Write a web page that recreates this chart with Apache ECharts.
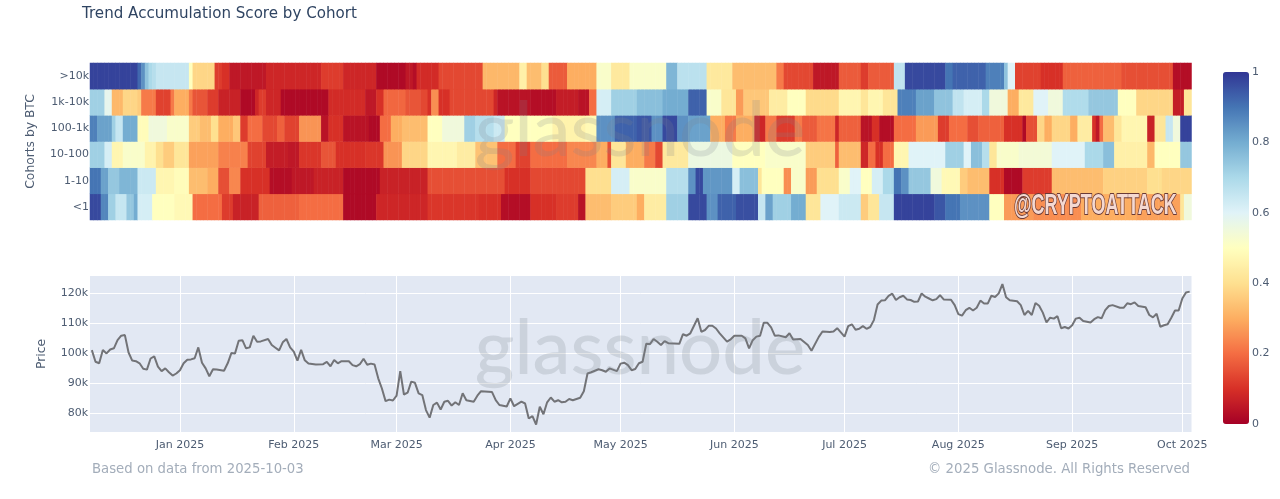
<!DOCTYPE html>
<html><head><meta charset="utf-8">
<style>html,body{margin:0;padding:0;background:#fff}#c{width:1280px;height:499px}</style>
<script src="https://cdn.jsdelivr.net/npm/echarts@6/dist/echarts.min.js"></script>
</head><body><div id="c"></div>
<script>
const cohorts = ['<1','1-10','10-100','100-1k','1k-10k','>10k'];
const priceTicks = [80000,90000,100000,110000,120000];
const scaleTicks = [0,0.2,0.4,0.6,0.8,1];
const palette = ['#a50026','#d73027','#f46d43','#fdae61','#fee090','#ffffbf','#e0f3f8','#abd9e9','#74add1','#4575b4','#313695'];
const dayCount = 300;
const firstDay = Date.UTC(2024,11,8);

// each pair: [day index where the band ends, score]
const bandsOver10k = [[13,.98],[14,.92],[15,.85],[16,.75],[17,.7],[18,.68],[27,.65],[28,.5],[34,.38],[36,.12],[38,.1],[48,.05],[63,.08],[69,.12],[78,.08],[86,.02],[88,.05],[89,.03],[95,.09],[107,.14],[117,.32],[119,.45],[123,.33],[125,.4],[130,.17],[138,.3],[142,.52],[147,.43],[157,.52],[160,.78],[168,.67],[175,.43],[187,.33],[189,.22],[197,.14],[204,.05],[210,.17],[212,.12],[219,.17],[222,.66],[233,.97],[235,.9],[244,.93],[249,.88],[250,.75],[252,.6],[259,.13],[265,.1],[281,.18],[295,.15],[300,.03]];
const bands1kTo10k = [[4,.72],[6,.58],[9,.32],[13,.38],[14,.36],[18,.22],[22,.13],[23,.22],[27,.3],[28,.22],[32,.16],[35,.12],[41,.07],[45,.02],[46,.08],[48,.12],[52,.08],[65,.02],[75,.09],[78,.05],[80,.1],[86,.19],[90,.16],[92,.14],[93,.1],[95,.25],[98,.1],[110,.14],[111,.08],[120,.04],[127,.03],[133,.06],[136,.04],[138,.2],[142,.62],[149,.72],[156,.76],[163,.8],[168,.93],[172,.52],[176,.42],[178,.27],[185,.35],[190,.44],[195,.5],[204,.39],[210,.47],[212,.42],[216,.47],[220,.42],[225,.88],[230,.82],[235,.75],[238,.66],[243,.62],[245,.7],[250,.55],[253,.3],[257,.43],[261,.6],[265,.55],[272,.69],[280,.74],[285,.5],[295,.38],[298,.06],[300,.42]];
const bands100To1k = [[2,.88],[6,.82],[7,.72],[9,.65],[13,.8],[16,.49],[21,.55],[27,.52],[30,.36],[33,.33],[35,.4],[39,.3],[41,.35],[43,.12],[47,.2],[51,.14],[53,.18],[57,.13],[63,.26],[65,.04],[69,.1],[76,.04],[79,.02],[82,.2],[85,.3],[92,.33],[96,.5],[102,.55],[105,.72],[110,.68],[113,.64],[126,.5],[135,.46],[138,.48],[143,.85],[149,.93],[153,.95],[156,.85],[160,.97],[163,.85],[169,.82],[173,.3],[176,.22],[181,.3],[184,.08],[187,.22],[192,.12],[194,.22],[198,.17],[203,.21],[204,.08],[210,.18],[213,.04],[215,.1],[219,.03],[225,.2],[231,.27],[234,.12],[239,.2],[242,.15],[249,.18],[254,.1],[255,.02],[258,.15],[260,.38],[262,.3],[267,.38],[269,.3],[273,.44],[274,.1],[275,.05],[276,.2],[279,.33],[281,.42],[288,.47],[290,.07],[293,.42],[295,.65],[297,.55],[300,.98]];
const bands10To100 = [[4,.72],[6,.62],[9,.47],[15,.52],[18,.46],[20,.4],[23,.36],[27,.42],[35,.28],[43,.23],[48,.13],[54,.06],[57,.05],[63,.11],[67,.16],[75,.1],[80,.11],[85,.26],[92,.38],[100,.47],[105,.44],[111,.34],[116,.2],[120,.13],[130,.2],[138,.24],[141,.3],[142,.15],[146,.42],[151,.3],[154,.22],[156,.14],[163,.43],[175,.56],[184,.5],[195,.52],[203,.36],[204,.18],[210,.33],[212,.08],[214,.2],[216,.1],[219,.2],[223,.47],[233,.6],[238,.72],[240,.6],[243,.76],[245,.68],[247,.42],[253,.52],[262,.54],[271,.6],[276,.7],[279,.76],[288,.45],[290,.32],[297,.5],[300,.74]];
const bands1To10 = [[3,.9],[5,.82],[8,.74],[13,.78],[18,.64],[23,.47],[27,.49],[32,.33],[35,.3],[38,.15],[41,.24],[49,.1],[55,.03],[61,.05],[69,.07],[79,.02],[92,.07],[113,.15],[120,.1],[135,.14],[142,.4],[147,.62],[157,.52],[163,.68],[165,.85],[167,.97],[175,.84],[177,.62],[182,.76],[183,.42],[189,.5],[191,.25],[195,.52],[198,.27],[204,.4],[207,.52],[210,.6],[213,.5],[216,.62],[219,.7],[221,.9],[223,.85],[229,.74],[232,.55],[237,.48],[239,.36],[245,.33],[249,.1],[254,.02],[262,.12],[276,.33],[288,.37],[292,.4],[300,.38]];
const bandsUnder1 = [[3,.97],[5,.87],[7,.72],[10,.65],[12,.74],[13,.8],[17,.62],[23,.5],[28,.48],[36,.2],[39,.12],[46,.07],[57,.18],[69,.2],[78,.02],[92,.08],[106,.11],[112,.1],[120,.03],[127,.1],[133,.12],[135,.04],[142,.33],[149,.36],[151,.3],[157,.44],[163,.72],[168,.97],[171,.85],[176,.93],[182,.96],[184,.65],[186,.82],[191,.72],[195,.8],[199,.42],[204,.6],[210,.64],[212,.36],[215,.42],[219,.65],[230,.98],[233,.95],[237,.9],[245,.85],[249,.5],[257,.27],[270,.25],[285,.3],[297,.28],[298,.42],[300,.55]];

// each pair: [day index, BTC price]
const pricesA = [[0,101100],[1,97200],[2,96700],[3,101100],[4,100000],[5,101300],[6,101700],[7,104400],[8,105900],[9,106100],[10,100300],[11,97600],[12,97400],[13,96700],[14,94900],[15,94600],[16,98300],[17,99000],[18,95600],[19,94100],[20,95000],[21,93700],[22,92600],[23,93300],[24,94400],[25,96700],[26,97900],[27,98000],[28,98400],[29,102000],[30,96900],[31,95000],[32,92400],[33,94700],[34,94600],[36,94200],[37,96700],[38,100100],[39,100000],[40,104200],[41,104400],[42,101700],[43,102000],[44,105900],[45,103900],[46,104000],[48,104800],[49,102800],[50,101900],[51,101000],[52,103700],[53,104800],[54,102000],[55,100600],[56,97600],[57,101200],[58,97700],[59,96600],[61,96300],[63,96400],[64,97200],[65,95700],[66,97800],[67,96700],[68,97400],[70,97400],[71,96100],[72,95700],[73,96400],[74,98200],[75,96200],[76,96600],[77,96300],[78,91700],[79,88300],[80,84100],[81,84600],[82,84300],[83,85900],[84,94100],[85,86300],[86,86900]];
const pricesB = [[87,90600],[88,90200],[89,86700],[90,86100],[91,81100],[92,78600],[93,82800],[94,83600],[95,81300],[96,83900],[97,84200],[98,82600],[99,83700],[100,82800],[101,86700],[102,84400],[104,83900],[105,85900],[106,87400],[109,87100],[110,84400],[111,82800],[113,82300],[114,85000],[115,82400],[117,83900],[118,83300],[119,78300],[120,79100],[121,76300],[122,82200],[123,79700],[124,83700],[125,85300],[126,83900],[127,84400],[128,83700],[129,83900],[130,84800],[131,84400],[133,85200],[134,87400],[135,93300],[136,93700],[138,94700],[139,94400],[140,93900],[141,95000],[143,94100],[144,96600],[145,96900],[146,96100],[147,94400],[148,94800],[149,96700],[150,97200],[151,103200],[152,103100],[153,104800],[154,103900],[155,102800],[156,104100],[157,103400],[160,103200],[161,106400],[162,105900],[163,106700],[164,109200],[165,111700],[166,107200],[167,107800],[168,109200],[169,109200],[170,108300],[171,106700],[173,103900],[174,104700],[175,105900],[177,105900],[178,105000],[179,101700],[180,104400],[181,105600],[182,105900],[183,110200],[184,110200],[185,108700],[186,105900],[187,106000],[189,105400],[190,106700],[191,104600],[193,104800],[195,102800],[196,100900]];
const pricesC = [[198,105500],[199,107300],[201,107100],[202,107300],[203,108400],[204,107000],[205,105600],[206,109100],[207,109700],[208,107900],[209,108200],[210,109100],[211,108200],[212,108800],[213,111100],[214,116300],[215,117600],[216,117700],[217,119200],[218,119900],[219,117800],[220,118700],[221,119200],[222,118000],[223,117800],[224,117200],[225,117300],[226,120000],[227,118900],[228,118300],[229,117700],[230,118100],[231,119400],[232,118000],[234,117900],[235,116100],[236,113100],[237,112600],[238,114400],[239,115200],[240,114300],[241,115200],[242,117600],[243,116600],[244,116600],[245,119200],[246,118800],[247,120000],[248,123100],[249,118700],[250,117700],[252,117400],[253,116100],[254,112800],[255,114200],[256,112800],[257,116800],[258,115900],[259,113600],[260,110300],[261,111900],[262,111600],[263,112400],[264,108400],[265,108800],[266,108300],[267,109400],[268,111600],[269,111900],[270,110800],[272,110300],[273,111400],[274,112100],[275,111700],[276,114400],[277,115800],[278,116100],[280,115200],[281,115200],[282,116700],[283,116400],[284,117000],[285,115800],[287,115400],[288,112800],[289,112000],[290,113200],[291,108900],[292,109400],[293,109700],[294,111900],[295,114300],[296,114300],[297,118300],[298,120300],[299,120600]];

const days = Array.from({length:dayCount},(_,i)=>new Date(firstDay+i*864e5));
const MONTHS=['Jan','Feb','Mar','Apr','May','Jun','Jul','Aug','Sep','Oct','Nov','Dec'];
const dayLabels = days.map(d=>MONTHS[d.getUTCMonth()]+' '+d.getUTCFullYear());
const isMonthStart = i => days[i].getUTCDate()===1;

const rows = [bandsUnder1,bands1To10,bands10To100,bands100To1k,bands1kTo10k,bandsOver10k];
const cells = [];
rows.forEach((bands,r)=>{let from=0;bands.forEach(([end,v])=>{for(let i=from;i<end;i++)cells.push([i,r,v]);from=end;});});
const prices = pricesA.concat(pricesB,pricesC);

const ink='#4d5c72', navy='#2f4462', faint='#a3adba';
const L=90, W=1101.5;
const chart = echarts.init(document.getElementById('c'),null,{renderer:'canvas'});
chart.setOption({
  animation:false,
  textStyle:{fontFamily:'DejaVu Sans'},
  title:[
    {text:'Trend Accumulation Score by Cohort',left:77,top:2,textStyle:{fontSize:15.1,fontWeight:'normal',color:navy,fontFamily:'DejaVu Sans'}},
    {text:'Based on data from 2025-10-03',left:87,top:458,textStyle:{fontSize:13.25,fontWeight:'normal',color:faint,fontFamily:'DejaVu Sans'}},
    {text:'© 2025 Glassnode. All Rights Reserved',right:85,top:458,textStyle:{fontSize:13.3,fontWeight:'normal',color:faint,fontFamily:'DejaVu Sans'}}
  ],
  grid:[
    {left:L,top:63,width:W,height:157},
    {left:L,top:276,width:W,height:156,backgroundColor:'#e2e8f3',show:true,borderWidth:0},
    {left:1223,top:72,width:26,height:352,show:false}
  ],
  xAxis:[
    {type:'category',gridIndex:0,data:dayLabels,show:false},
    {type:'category',gridIndex:1,data:dayLabels,boundaryGap:true,
      axisLine:{show:false},
      axisTick:{show:false},
      axisLabel:{interval:i=>isMonthStart(i),color:ink,fontSize:11,margin:8,hideOverlap:false},
      splitLine:{show:true,interval:i=>isMonthStart(i),alignWithLabel:true,lineStyle:{color:'#ffffff',width:1}}},
    {type:'value',gridIndex:2,show:false,min:0,max:1}
  ],
  yAxis:[
    {type:'category',gridIndex:0,data:cohorts,name:'Cohorts by BTC',nameLocation:'middle',nameGap:53,
      nameTextStyle:{color:ink,fontSize:12.3},
      axisLine:{show:false},axisTick:{show:false},axisLabel:{color:ink,fontSize:11,margin:0,padding:[0,1,0,0]},splitLine:{show:false}},
    {type:'value',gridIndex:1,min:73800,max:125800,name:'Price',nameLocation:'middle',nameGap:42,
      nameTextStyle:{color:ink,fontSize:12.3},
      axisLine:{show:false},
      axisTick:{show:false,customValues:priceTicks},
      axisLabel:{color:ink,fontSize:11,margin:2,customValues:priceTicks,formatter:v=>(v/1000)+'k'},
      splitLine:{show:true,lineStyle:{color:'#ffffff',width:1}}},
    {type:'value',gridIndex:2,position:'right',min:0,max:1,
      axisLine:{show:false},
      axisTick:{show:false,customValues:scaleTicks},
      axisLabel:{color:ink,fontSize:11,margin:3,customValues:scaleTicks,formatter:v=>String(v)},
      splitLine:{show:false}}
  ],
  visualMap:{type:'continuous',seriesIndex:0,min:0,max:1,calculable:false,hoverLink:false,
    left:1208,top:57,itemWidth:26,itemHeight:352,borderRadius:0,text:null,showLabel:false,
    textStyle:{color:'transparent',fontSize:1},
    inRange:{color:palette},formatter:()=>''},
  series:[
    {type:'heatmap',xAxisIndex:0,yAxisIndex:0,data:cells,progressive:0,animation:false,
      itemStyle:{borderWidth:0},emphasis:{disabled:true}},
    {type:'line',xAxisIndex:1,yAxisIndex:1,data:prices,showSymbol:false,smooth:false,
      lineStyle:{color:'#727377',width:2},z:3,emphasis:{disabled:true}}
  ],
  graphic:[
    {type:'text',left:'center',top:93,z:20,silent:true,style:{text:'glassnode',font:'500 76px Lato',fill:'rgba(125,130,140,0.2)'}},
    {type:'text',left:'center',top:311,z:20,silent:true,style:{text:'glassnode',font:'500 76px Lato',fill:'rgba(125,130,140,0.22)'}},
    {type:'text',x:1014,y:191,scaleX:0.62,z:21,silent:true,style:{text:'@CRYPTOATTACK',font:'bold 29px "Liberation Sans"',fill:'#f4d9d2',stroke:'#6a3a36',lineWidth:2}}
  ]
});
</script></body></html>
